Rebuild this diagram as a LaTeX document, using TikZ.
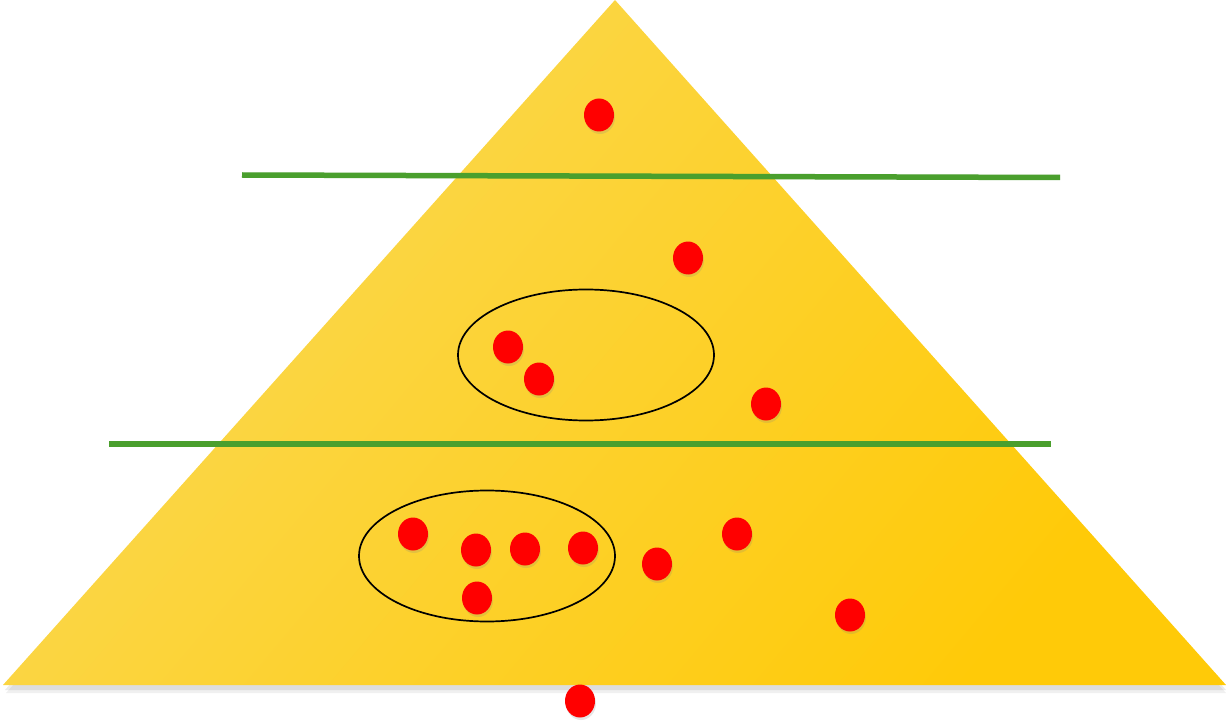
\documentclass[tikz,border=0pt]{standalone}
\usetikzlibrary{shapes.geometric,shadows}
\definecolor{ylight}{HTML}{FAD955}
\definecolor{ydark}{HTML}{FFCA08}
\definecolor{lgreen}{HTML}{4A9F2D}
\definecolor{dred}{HTML}{FF0000}
\tikzset{
  dot/.style={shape=ellipse, fill=dred, minimum width=30pt, minimum height=33pt, inner sep=0pt,
    drop shadow={shadow xshift=1pt, shadow yshift=-2.5pt, opacity=0.2, fill=black!50}},
  divider/.style={draw=lgreen, line width=5.5pt},
  dividershadow/.style={draw=black!60, opacity=0.2, line width=5pt},
  groupring/.style={shape=ellipse, draw=black, line width=1.7pt, inner sep=0pt}
}
\begin{document}
\begin{tikzpicture}[x=1pt,y=-1pt]
\useasboundingbox (0,0) rectangle (1226,722);
% shadow of triangle
\fill[black, opacity=0.08] (615,3) -- (5,690) -- (1226,690) -- cycle;
\fill[black, opacity=0.06] (615,5) -- (6,693) -- (1226,693) -- cycle;
% triangle
\shade[shading=axis, top color=ylight, bottom color=ydark, shading angle=50]
  (615,0) coordinate (apex) -- (3,685) coordinate (bl) -- (1226,685) coordinate (br) -- cycle;
% dividers
\coordinate (l1a) at (242,175); \coordinate (l1b) at (1060,177.5);
\coordinate (l2a) at (109,444); \coordinate (l2b) at (1051,444);
\begin{scope}[yshift=-3.5pt]
\draw[dividershadow] (l1a) -- (l1b);
\draw[dividershadow] (l2a) -- (l2b);
\end{scope}
\draw[divider] (l1a) -- (l1b);
\draw[divider] (l2a) -- (l2b);
% group rings
\node[groupring, minimum width=256pt, minimum height=131pt] (ring1) at (586,355) {};
\node[groupring, minimum width=256pt, minimum height=131pt] (ring2) at (487,556) {};
% dots
\node[dot] (d1) at (599,115) {};
\node[dot] (d2) at (688,258) {};
\node[dot] (d3) at (508,347) {};
\node[dot] (d4) at (539,379) {};
\node[dot] (d5) at (766,404) {};
\node[dot] (d6) at (413,534) {};
\node[dot] (d7) at (476,550) {};
\node[dot] (d8) at (525,549) {};
\node[dot] (d9) at (583,548) {};
\node[dot] (d10) at (657,564) {};
\node[dot] (d11) at (737,534) {};
\node[dot] (d12) at (477,598) {};
\node[dot] (d13) at (850,615) {};
\node[dot] (d14) at (580,701) {};
\end{tikzpicture}
\end{document}
